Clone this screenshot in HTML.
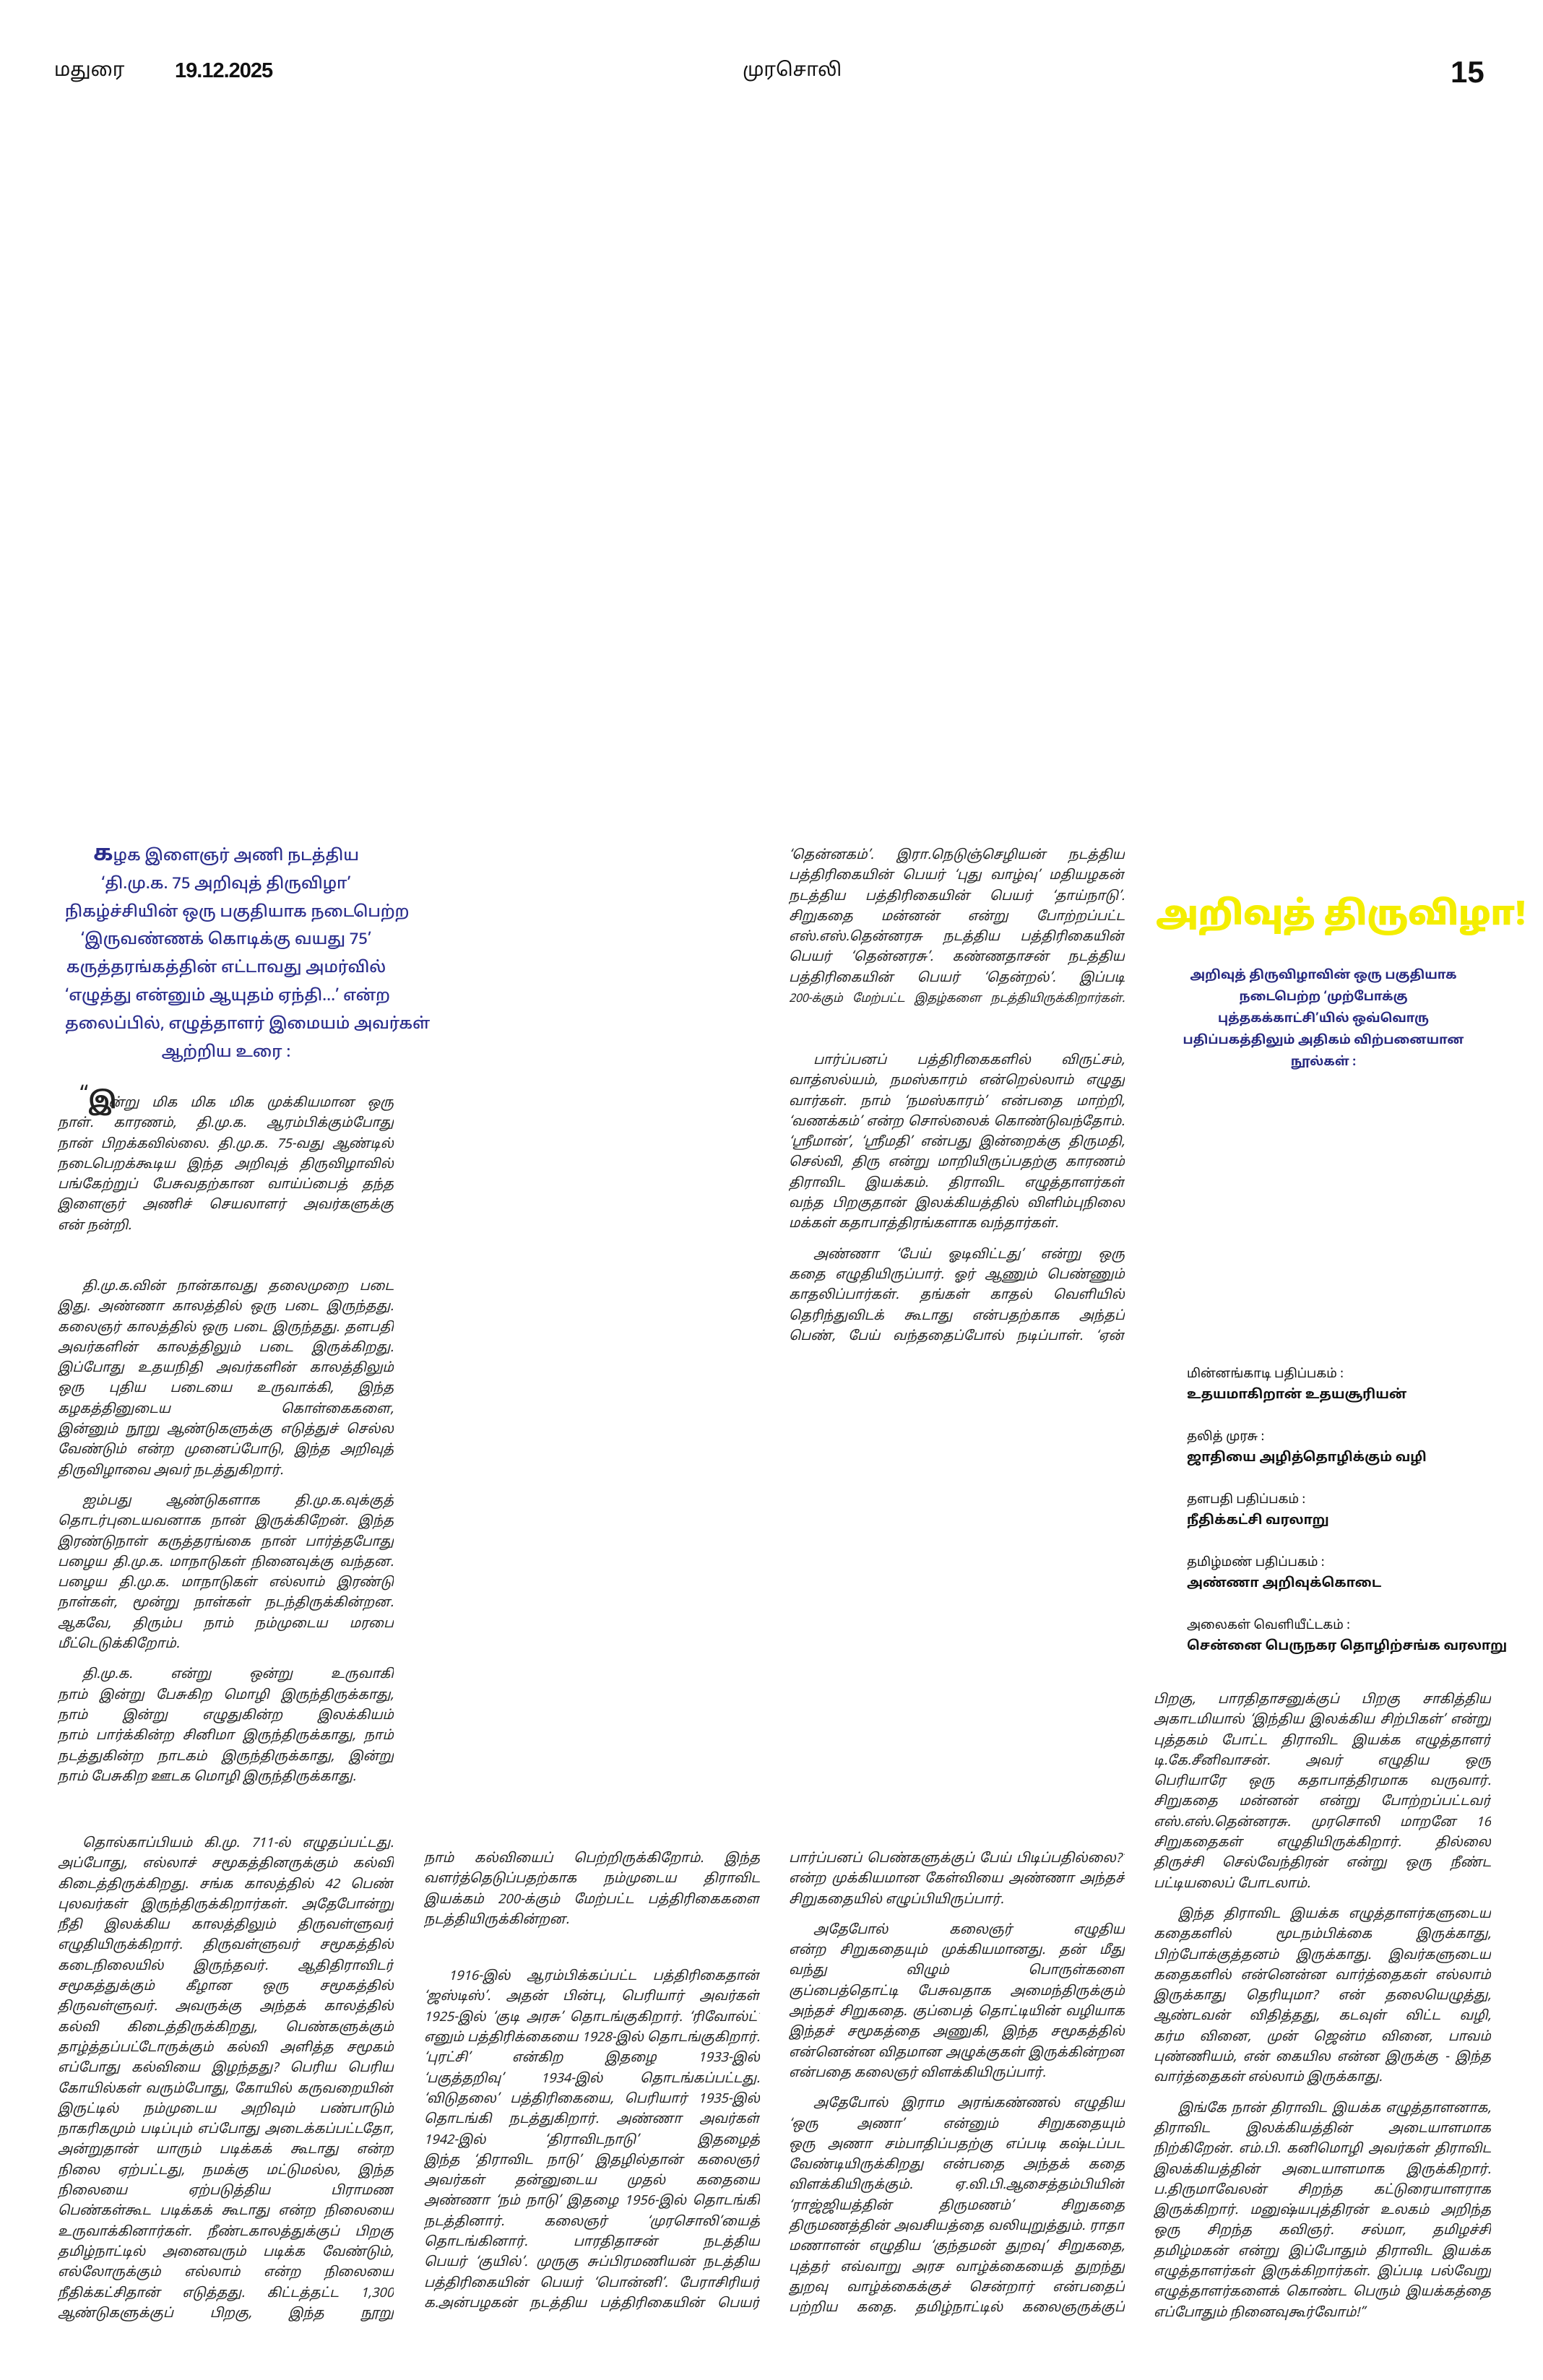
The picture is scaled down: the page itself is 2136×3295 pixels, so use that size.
<!DOCTYPE html>
<html><head><meta charset="utf-8">
<style>
html,body{margin:0;padding:0;background:#fff;}
body{width:2136px;height:3295px;position:relative;overflow:hidden;font-family:"Noto Sans Tamil","Lohit Tamil","Latha","Liberation Serif","DejaVu Sans",serif;color:#222;}
.blk{position:absolute;}
.ln{height:28.3px;line-height:28.3px;font-size:18px;font-style:italic;text-align:justify;text-align-last:justify;overflow:hidden;white-space:normal;}
.e{text-align-last:left;}
.i{padding-left:34px;}
.gap{height:14px;}
.gap2{height:50px;}
.hd{color:#2a2d8c;font-size:22px;line-height:38.8px;text-align:center;white-space:nowrap;font-weight:500;}
.sub{color:#26287f;font-weight:bold;font-size:17px;line-height:30px;text-align:center;white-space:nowrap;}
.bk{font-size:17px;line-height:28px;color:#111;white-space:nowrap;}
.bk b{font-size:18px;}
.top{position:absolute;top:82px;color:#111;white-space:nowrap;}
</style></head><body>

<div class="top" style="left:75px;font-size:26px;">மதுரை</div>
<div class="top" style="left:242px;font-size:29px;font-weight:bold;letter-spacing:-1px;font-family:'Liberation Sans',sans-serif;">19.12.2025</div>
<div class="top" style="left:1028px;font-size:26px;">முரசொலி</div>
<div class="top" style="left:2008px;top:76px;font-size:42px;font-weight:bold;font-family:'Liberation Sans',sans-serif;">15</div>

<div class="blk hd" style="left:90px;top:1166px;width:446px;">
<div><span style="font-size:30px;font-weight:bold;">க</span>ழக இளைஞர் அணி நடத்திய</div>
<div>‘தி.மு.க. 75 அறிவுத் திருவிழா’</div>
<div>நிகழ்ச்சியின் ஒரு பகுதியாக நடைபெற்ற</div>
<div>‘இருவண்ணக் கொடிக்கு வயது 75’</div>
<div>கருத்தரங்கத்தின் எட்டாவது அமர்வில்</div>
<div>‘எழுத்து என்னும் ஆயுதம் ஏந்தி...’ என்ற</div>
<div>தலைப்பில், எழுத்தாளர் இமையம் அவர்கள்</div>
<div>ஆற்றிய உரை :</div>
</div>

<div class="blk" style="left:80px;top:1514px;width:465px;">
<div class="ln" style="padding-left:70px;position:relative;overflow:visible;"><span style="position:absolute;left:30px;top:-8px;font-size:30px;font-style:normal;">“</span><span style="position:absolute;left:42px;top:-6px;font-size:32px;font-weight:bold;font-style:normal;line-height:36px;">இ</span>ன்று மிக மிக மிக முக்கியமான ஒரு</div>
<div class="ln">நாள். காரணம், தி.மு.க. ஆரம்பிக்கும்போது</div>
<div class="ln">நான் பிறக்கவில்லை. தி.மு.க. 75-வது ஆண்டில்</div>
<div class="ln">நடைபெறக்கூடிய இந்த அறிவுத் திருவிழாவில்</div>
<div class="ln">பங்கேற்றுப் பேசுவதற்கான வாய்ப்பைத் தந்த</div>
<div class="ln">இளைஞர் அணிச் செயலாளர் அவர்களுக்கு</div>
<div class="ln e">என் நன்றி.</div>
</div>

<div class="blk" style="left:80px;top:1768px;width:465px;">
<div class="ln i">தி.மு.க.வின் நான்காவது தலைமுறை படை</div>
<div class="ln">இது. அண்ணா காலத்தில் ஒரு படை இருந்தது.</div>
<div class="ln">கலைஞர் காலத்தில் ஒரு படை இருந்தது. தளபதி</div>
<div class="ln">அவர்களின் காலத்திலும் படை இருக்கிறது.</div>
<div class="ln">இப்போது உதயநிதி அவர்களின் காலத்திலும்</div>
<div class="ln">ஒரு புதிய படையை உருவாக்கி, இந்த</div>
<div class="ln">கழகத்தினுடைய கொள்கைகளை, கோட்பாடுகளை</div>
<div class="ln">இன்னும் நூறு ஆண்டுகளுக்கு எடுத்துச் செல்ல</div>
<div class="ln">வேண்டும் என்ற முனைப்போடு, இந்த அறிவுத்</div>
<div class="ln e">திருவிழாவை அவர் நடத்துகிறார்.</div>
<div class="gap"></div>
<div class="ln i">ஐம்பது ஆண்டுகளாக தி.மு.க.வுக்குத்</div>
<div class="ln">தொடர்புடையவனாக நான் இருக்கிறேன். இந்த</div>
<div class="ln">இரண்டுநாள் கருத்தரங்கை நான் பார்த்தபோது</div>
<div class="ln">பழைய தி.மு.க. மாநாடுகள் நினைவுக்கு வந்தன.</div>
<div class="ln">பழைய தி.மு.க. மாநாடுகள் எல்லாம் இரண்டு</div>
<div class="ln">நாள்கள், மூன்று நாள்கள் நடந்திருக்கின்றன.</div>
<div class="ln">ஆகவே, திரும்ப நாம் நம்முடைய மரபை</div>
<div class="ln e">மீட்டெடுக்கிறோம்.</div>
<div class="gap"></div>
<div class="ln i">தி.மு.க. என்று ஒன்று உருவாகி இருக்காவிட்டால்,</div>
<div class="ln">நாம் இன்று பேசுகிற மொழி இருந்திருக்காது,</div>
<div class="ln">நாம் இன்று எழுதுகின்ற இலக்கியம் இருந்திருக்காது.</div>
<div class="ln">நாம் பார்க்கின்ற சினிமா இருந்திருக்காது, நாம்</div>
<div class="ln">நடத்துகின்ற நாடகம் இருந்திருக்காது, இன்று</div>
<div class="ln e">நாம் பேசுகிற ஊடக மொழி இருந்திருக்காது.</div>
</div>

<div class="blk" style="left:1092px;top:1171px;width:465px;">
<div class="ln">‘தென்னகம்’. இரா.நெடுஞ்செழியன் நடத்திய</div>
<div class="ln">பத்திரிகையின் பெயர் ‘புது வாழ்வு’ மதியழகன்</div>
<div class="ln">நடத்திய பத்திரிகையின் பெயர் ‘தாய்நாடு’.</div>
<div class="ln">சிறுகதை மன்னன் என்று போற்றப்பட்ட</div>
<div class="ln">எஸ்.எஸ்.தென்னரசு நடத்திய பத்திரிகையின்</div>
<div class="ln">பெயர் ‘தென்னரசு’. கண்ணதாசன் நடத்திய</div>
<div class="ln">பத்திரிகையின் பெயர் ‘தென்றல்’. இப்படி</div>
<div class="ln" style="font-size:16px;letter-spacing:-0.3px;">200-க்கும் மேற்பட்ட இதழ்களை நடத்தியிருக்கிறார்கள்.</div>
</div>
<div class="blk" style="left:1092px;top:1455px;width:465px;">
<div class="ln i">பார்ப்பனப் பத்திரிகைகளில் விருட்சம்,</div>
<div class="ln">வாத்ஸல்யம், நமஸ்காரம் என்றெல்லாம் எழுது</div>
<div class="ln">வார்கள். நாம் ‘நமஸ்காரம்’ என்பதை மாற்றி,</div>
<div class="ln">‘வணக்கம்’ என்ற சொல்லைக் கொண்டுவந்தோம்.</div>
<div class="ln">‘ஸ்ரீமான்’, ‘ஸ்ரீமதி’ என்பது இன்றைக்கு திருமதி,</div>
<div class="ln">செல்வி, திரு என்று மாறியிருப்பதற்கு காரணம்</div>
<div class="ln">திராவிட இயக்கம். திராவிட எழுத்தாளர்கள்</div>
<div class="ln">வந்த பிறகுதான் இலக்கியத்தில் விளிம்புநிலை</div>
<div class="ln e">மக்கள் கதாபாத்திரங்களாக வந்தார்கள்.</div>
<div class="gap"></div>
<div class="ln i">அண்ணா ‘பேய் ஓடிவிட்டது’ என்று ஒரு</div>
<div class="ln">கதை எழுதியிருப்பார். ஓர் ஆணும் பெண்ணும்</div>
<div class="ln">காதலிப்பார்கள். தங்கள் காதல் வெளியில்</div>
<div class="ln">தெரிந்துவிடக் கூடாது என்பதற்காக அந்தப்</div>
<div class="ln">பெண், பேய் வந்ததைப்போல் நடிப்பாள். ‘ஏன்</div>
</div>

<div class="blk" style="left:1600px;top:1232px;width:470px;text-align:center;font-weight:900;font-size:46px;line-height:76px;color:#f4ee00;white-space:nowrap;">அறிவுத் திருவிழா!</div>
<div class="blk sub" style="left:1637px;top:1337px;width:390px;">
<div>அறிவுத் திருவிழாவின் ஒரு பகுதியாக</div>
<div>நடைபெற்ற ‘முற்போக்கு</div>
<div>புத்தகக்காட்சி’யில் ஒவ்வொரு</div>
<div>பதிப்பகத்திலும் அதிகம் விற்பனையான</div>
<div>நூல்கள் :</div>
</div>

<div class="blk bk" style="left:1643px;top:1890px;width:440px;">
<div>மின்னங்காடி பதிப்பகம் :</div>
<div><b>உதயமாகிறான் உதயசூரியன்</b></div>
<div style="height:30px"></div>
<div>தலித் முரசு :</div>
<div><b>ஜாதியை அழித்தொழிக்கும் வழி</b></div>
<div style="height:30px"></div>
<div>தளபதி பதிப்பகம் :</div>
<div><b>நீதிக்கட்சி வரலாறு</b></div>
<div style="height:30px"></div>
<div>தமிழ்மண் பதிப்பகம் :</div>
<div><b>அண்ணா அறிவுக்கொடை</b></div>
<div style="height:30px"></div>
<div>அலைகள் வெளியீட்டகம் :</div>
<div><b>சென்னை பெருநகர தொழிற்சங்க வரலாறு</b></div>
</div>

<div class="blk" style="left:80px;top:2539px;width:465px;">
<div class="ln i">தொல்காப்பியம் கி.மு. 711-ல் எழுதப்பட்டது.</div>
<div class="ln">அப்போது, எல்லாச் சமூகத்தினருக்கும் கல்வி</div>
<div class="ln">கிடைத்திருக்கிறது. சங்க காலத்தில் 42 பெண்</div>
<div class="ln">புலவர்கள் இருந்திருக்கிறார்கள். அதேபோன்று</div>
<div class="ln">நீதி இலக்கிய காலத்திலும் திருவள்ளுவர்</div>
<div class="ln">எழுதியிருக்கிறார். திருவள்ளுவர் சமூகத்தில்</div>
<div class="ln">கடைநிலையில் இருந்தவர். ஆதிதிராவிடர்</div>
<div class="ln">சமூகத்துக்கும் கீழான ஒரு சமூகத்தில் பிறந்தவர்தான்</div>
<div class="ln">திருவள்ளுவர். அவருக்கு அந்தக் காலத்தில்</div>
<div class="ln">கல்வி கிடைத்திருக்கிறது, பெண்களுக்கும்</div>
<div class="ln">தாழ்த்தப்பட்டோருக்கும் கல்வி அளித்த சமூகம்</div>
<div class="ln">எப்போது கல்வியை இழந்தது? பெரிய பெரிய</div>
<div class="ln">கோயில்கள் வரும்போது, கோயில் கருவறையின்</div>
<div class="ln">இருட்டில் நம்முடைய அறிவும் பண்பாடும்</div>
<div class="ln">நாகரிகமும் படிப்பும் எப்போது அடைக்கப்பட்டதோ,</div>
<div class="ln">அன்றுதான் யாரும் படிக்கக் கூடாது என்ற</div>
<div class="ln">நிலை ஏற்பட்டது, நமக்கு மட்டுமல்ல, இந்த</div>
<div class="ln">நிலையை ஏற்படுத்திய பிராமண சமூகத்தினருடைய</div>
<div class="ln">பெண்கள்கூட படிக்கக் கூடாது என்ற நிலையை</div>
<div class="ln">உருவாக்கினார்கள். நீண்டகாலத்துக்குப் பிறகு</div>
<div class="ln">தமிழ்நாட்டில் அனைவரும் படிக்க வேண்டும்,</div>
<div class="ln">எல்லோருக்கும் எல்லாம் என்ற நிலையை</div>
<div class="ln">நீதிக்கட்சிதான் எடுத்தது. கிட்டத்தட்ட 1,300</div>
<div class="ln">ஆண்டுகளுக்குப் பிறகு, இந்த நூறு ஆண்டுகளாகத்தான்</div>
</div>

<div class="blk" style="left:587px;top:2560px;width:465px;">
<div class="ln">நாம் கல்வியைப் பெற்றிருக்கிறோம். இந்த அறிவை</div>
<div class="ln">வளர்த்தெடுப்பதற்காக நம்முடைய திராவிட</div>
<div class="ln">இயக்கம் 200-க்கும் மேற்பட்ட பத்திரிகைகளை</div>
<div class="ln e">நடத்தியிருக்கின்றன.</div>
<div class="gap2"></div>
<div class="ln i">1916-இல் ஆரம்பிக்கப்பட்ட பத்திரிகைதான்</div>
<div class="ln">‘ஜஸ்டிஸ்’. அதன் பின்பு, பெரியார் அவர்கள்</div>
<div class="ln">1925-இல் ‘குடி அரசு’ தொடங்குகிறார். ‘ரிவோல்ட்’</div>
<div class="ln">எனும் பத்திரிக்கையை 1928-இல் தொடங்குகிறார்.</div>
<div class="ln">‘புரட்சி’ என்கிற இதழை 1933-இல் தொடங்குகிறார்.</div>
<div class="ln">‘பகுத்தறிவு’ 1934-இல் தொடங்கப்பட்டது.</div>
<div class="ln">‘விடுதலை’ பத்திரிகையை, பெரியார் 1935-இல்</div>
<div class="ln">தொடங்கி நடத்துகிறார். அண்ணா அவர்கள்</div>
<div class="ln">1942-இல் ‘திராவிடநாடு’ இதழைத் தொடங்குகிறார்.</div>
<div class="ln">இந்த ‘திராவிட நாடு’ இதழில்தான் கலைஞர்</div>
<div class="ln">அவர்கள் தன்னுடைய முதல் கதையை எழுதுகிறார்.</div>
<div class="ln">அண்ணா ‘நம் நாடு’ இதழை 1956-இல் தொடங்கி</div>
<div class="ln">நடத்தினார். கலைஞர் ‘முரசொலி’யைத்</div>
<div class="ln">தொடங்கினார். பாரதிதாசன் நடத்திய பத்திரிகையின்</div>
<div class="ln">பெயர் ‘குயில்’. முருகு சுப்பிரமணியன் நடத்திய</div>
<div class="ln">பத்திரிகையின் பெயர் ‘பொன்னி’. பேராசிரியர்</div>
<div class="ln">க.அன்பழகன் நடத்திய பத்திரிகையின் பெயர்</div>
</div>

<div class="blk" style="left:1092px;top:2560px;width:465px;">
<div class="ln">பார்ப்பனப் பெண்களுக்குப் பேய் பிடிப்பதில்லை?’</div>
<div class="ln">என்ற முக்கியமான கேள்வியை அண்ணா அந்தச்</div>
<div class="ln e">சிறுகதையில் எழுப்பியிருப்பார்.</div>
<div class="gap"></div>
<div class="ln i">அதேபோல் கலைஞர் எழுதிய ‘குப்பைத்தொட்டி’</div>
<div class="ln">என்ற சிறுகதையும் முக்கியமானது. தன் மீது</div>
<div class="ln">வந்து விழும் பொருள்களை அடிப்படையாகக்கொண்டு</div>
<div class="ln">குப்பைத்தொட்டி பேசுவதாக அமைந்திருக்கும்</div>
<div class="ln">அந்தச் சிறுகதை. குப்பைத் தொட்டியின் வழியாக</div>
<div class="ln">இந்தச் சமூகத்தை அணுகி, இந்த சமூகத்தில்</div>
<div class="ln">என்னென்ன விதமான அழுக்குகள் இருக்கின்றன</div>
<div class="ln e">என்பதை கலைஞர் விளக்கியிருப்பார்.</div>
<div class="gap"></div>
<div class="ln i">அதேபோல் இராம அரங்கண்ணல் எழுதிய</div>
<div class="ln">‘ஒரு அணா’ என்னும் சிறுகதையும் முக்கியமானது.</div>
<div class="ln">ஒரு அணா சம்பாதிப்பதற்கு எப்படி கஷ்டப்பட</div>
<div class="ln">வேண்டியிருக்கிறது என்பதை அந்தக் கதை</div>
<div class="ln">விளக்கியிருக்கும். ஏ.வி.பி.ஆசைத்தம்பியின்</div>
<div class="ln">‘ராஜ்ஜியத்தின் திருமணம்’ சிறுகதை சுயமரியாதை</div>
<div class="ln">திருமணத்தின் அவசியத்தை வலியுறுத்தும். ராதா</div>
<div class="ln">மணாளன் எழுதிய ‘குந்தமன் துறவு’ சிறுகதை,</div>
<div class="ln">புத்தர் எவ்வாறு அரச வாழ்க்கையைத் துறந்து</div>
<div class="ln">துறவு வாழ்க்கைக்குச் சென்றார் என்பதைப்</div>
<div class="ln">பற்றிய கதை. தமிழ்நாட்டில் கலைஞருக்குப்</div>
</div>

<div class="blk" style="left:1597px;top:2340px;width:467px;">
<div class="ln">பிறகு, பாரதிதாசனுக்குப் பிறகு சாகித்திய</div>
<div class="ln">அகாடமியால் ‘இந்திய இலக்கிய சிற்பிகள்’ என்று</div>
<div class="ln">புத்தகம் போட்ட திராவிட இயக்க எழுத்தாளர்</div>
<div class="ln">டி.கே.சீனிவாசன். அவர் எழுதிய ஒரு சிறுகதையில்</div>
<div class="ln">பெரியாரே ஒரு கதாபாத்திரமாக வருவார்.</div>
<div class="ln">சிறுகதை மன்னன் என்று போற்றப்பட்டவர்</div>
<div class="ln">எஸ்.எஸ்.தென்னரசு. முரசொலி மாறனே 16</div>
<div class="ln">சிறுகதைகள் எழுதியிருக்கிறார். தில்லை வில்லாளன்,</div>
<div class="ln">திருச்சி செல்வேந்திரன் என்று ஒரு நீண்ட</div>
<div class="ln e">பட்டியலைப் போடலாம்.</div>
<div class="gap"></div>
<div class="ln i">இந்த திராவிட இயக்க எழுத்தாளர்களுடைய</div>
<div class="ln">கதைகளில் மூடநம்பிக்கை இருக்காது,</div>
<div class="ln">பிற்போக்குத்தனம் இருக்காது. இவர்களுடைய</div>
<div class="ln">கதைகளில் என்னென்ன வார்த்தைகள் எல்லாம்</div>
<div class="ln">இருக்காது தெரியுமா? என் தலையெழுத்து,</div>
<div class="ln">ஆண்டவன் விதித்தது, கடவுள் விட்ட வழி,</div>
<div class="ln">கர்ம வினை, முன் ஜென்ம வினை, பாவம்</div>
<div class="ln">புண்ணியம், என் கையில என்ன இருக்கு - இந்த</div>
<div class="ln e">வார்த்தைகள் எல்லாம் இருக்காது.</div>
<div class="gap"></div>
<div class="ln i">இங்கே நான் திராவிட இயக்க எழுத்தாளனாக,</div>
<div class="ln">திராவிட இலக்கியத்தின் அடையாளமாக</div>
<div class="ln">நிற்கிறேன். எம்.பி. கனிமொழி அவர்கள் திராவிட</div>
<div class="ln">இலக்கியத்தின் அடையாளமாக இருக்கிறார்.</div>
<div class="ln">ப.திருமாவேலன் சிறந்த கட்டுரையாளராக</div>
<div class="ln">இருக்கிறார். மனுஷ்யபுத்திரன் உலகம் அறிந்த</div>
<div class="ln">ஒரு சிறந்த கவிஞர். சல்மா, தமிழச்சி தங்கபாண்டியன்,</div>
<div class="ln">தமிழ்மகன் என்று இப்போதும் திராவிட இயக்க</div>
<div class="ln">எழுத்தாளர்கள் இருக்கிறார்கள். இப்படி பல்வேறு</div>
<div class="ln">எழுத்தாளர்களைக் கொண்ட பெரும் இயக்கத்தை</div>
<div class="ln e">எப்போதும் நினைவுகூர்வோம்!”</div>
</div>

</body></html>
